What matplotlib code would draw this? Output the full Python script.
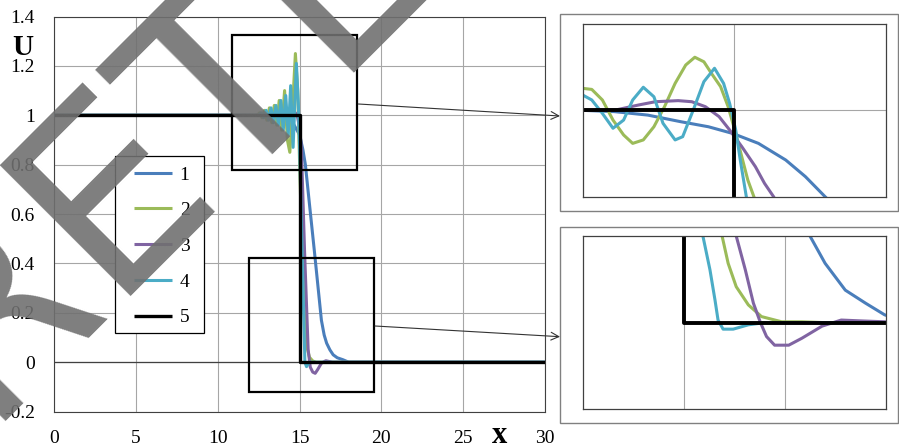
import matplotlib.pyplot as plt
from matplotlib.patches import Rectangle, FancyArrowPatch

plt.rcParams['font.family'] = ['Liberation Serif', 'DejaVu Serif']

W, H = 899, 448

# main chart series (x, U)
x1 = [0, 14.0, 14.5, 15.0, 15.2, 15.35, 15.6, 15.9, 16.1, 16.33, 16.5, 16.65, 16.85, 17.05, 17.3, 17.65, 18.0, 30]
y1 = [1, 1, 0.98, 0.92, 0.86, 0.8, 0.64, 0.45, 0.32, 0.17, 0.11, 0.077, 0.05, 0.03, 0.018, 0.01, 0.0, 0.0]
x2 = [0, 12.4, 12.55, 12.7, 12.85, 13.0, 13.15, 13.3, 13.45, 13.6, 13.75, 13.9, 14.08, 14.25, 14.4,
      14.58, 14.74, 14.88, 15.0, 15.15, 15.3, 15.45, 15.6, 15.8, 16.0, 30]
y2 = [1, 1, 1.01, 0.99, 1.02, 0.98, 1.03, 0.97, 1.04, 0.96, 1.06, 0.94, 1.1, 0.9, 0.85,
      1.05, 1.25, 1.1, 0.8, 0.45, 0.18, 0.06, 0.02, 0.005, 0, 0]
x3 = [0, 14.0, 14.5, 14.85, 15.0, 15.11, 15.3, 15.52, 15.65, 15.8, 15.95, 16.1, 16.33, 16.6, 17.0, 30]
y3 = [1, 1, 1.03, 1.0, 0.95, 0.86, 0.45, 0.05, -0.02, -0.04, -0.045, -0.03, -0.004, 0.006, 0.0, 0.0]
x4 = [0, 12.5, 12.65, 12.8, 12.95, 13.1, 13.25, 13.4, 13.55, 13.7, 13.85, 14.0, 14.15, 14.3, 14.45,
      14.6, 14.8, 14.92, 15.0, 15.15, 15.32, 15.42, 15.6, 30]
y4 = [1, 1, 1.01, 0.99, 1.02, 0.98, 1.03, 0.97, 1.04, 0.96, 1.06, 0.94, 1.08, 0.92, 1.12,
      0.87, 1.21, 1.05, 0.86, 0.45, 0.0, -0.018, 0, 0]
x5 = [0, 15, 15, 30]
y5 = [1, 1, 0, 0]

# upper inset (x 14..16, U 0.6..1.4)
b1x = [14.0, 14.21, 14.43, 14.65, 14.83, 14.99, 15.16, 15.34, 15.47, 15.6, 15.7]
b1y = [1.0, 0.994, 0.978, 0.947, 0.924, 0.893, 0.847, 0.77, 0.693, 0.6, 0.53]
g1x = [14.0, 14.06, 14.13, 14.2, 14.27, 14.33, 14.4, 14.47, 14.54, 14.61, 14.68, 14.74, 14.8, 14.85,
       14.91, 14.96, 15.01, 15.05, 15.09, 15.13, 15.2]
g1y = [1.102, 1.097, 1.048, 0.955, 0.886, 0.847, 0.863, 0.924, 1.017, 1.125, 1.21, 1.246, 1.225, 1.171,
       1.11, 1.017, 0.893, 0.785, 0.677, 0.6, 0.45]
p1x = [14.0, 14.22, 14.37, 14.48, 14.63, 14.72, 14.81, 14.9, 14.97, 15.05, 15.14, 15.2, 15.26, 15.32]
p1y = [1.0, 1.002, 1.025, 1.04, 1.045, 1.04, 1.017, 0.971, 0.909, 0.832, 0.739, 0.662, 0.6, 0.52]
c1x = [14.0, 14.06, 14.13, 14.2, 14.27, 14.33, 14.4, 14.47, 14.53, 14.61, 14.66, 14.73, 14.8, 14.87,
       14.93, 14.97, 15.01, 15.04, 15.08, 15.12]
c1y = [1.071, 1.048, 0.986, 0.917, 0.955, 1.048, 1.107, 1.063, 0.94, 0.863, 0.878, 1.002, 1.133, 1.195,
       1.125, 1.032, 0.909, 0.77, 0.6, 0.45]

# lower inset (x 14..17, U -0.2..0.2)
b2x = [16.1, 16.25, 16.4, 16.6, 16.8, 16.99, 17.1]
b2y = [0.28, 0.2, 0.137, 0.075, 0.045, 0.018, 0.01]
g2x = [15.3, 15.38, 15.44, 15.52, 15.64, 15.77, 15.97, 16.17, 16.4, 17.0]
g2y = [0.28, 0.2, 0.137, 0.083, 0.041, 0.014, 0.002, 0.002, 0.0, 0.0]
p2x = [15.45, 15.52, 15.61, 15.69, 15.76, 15.82, 15.9, 16.04, 16.17, 16.37, 16.56, 16.76, 16.99]
p2y = [0.28, 0.2, 0.122, 0.045, 0.0, -0.032, -0.052, -0.052, -0.036, -0.008, 0.006, 0.004, 0.002]
c2x = [15.1, 15.19, 15.26, 15.31, 15.34, 15.39, 15.49, 15.64, 15.8, 17.0]
c2y = [0.28, 0.2, 0.122, 0.052, 0.006, -0.015, -0.015, -0.005, 0.0, 0.0]

labels = ['1', '2', '3', '4', '5']
colors = ['#4a7ebb', '#9bbb59', '#8064a2', '#4bacc6', 'black']
xticks = [0, 5, 10, 15, 20, 25, 30]
yticks = [-0.2, 0, 0.2, 0.4, 0.6, 0.8, 1, 1.2, 1.4]
ytick_labels = ['-0.2', '0', '0.2', '0.4', '0.6', '0.8', '1', '1.2', '1.4']

# zoom boxes drawn on the main chart (data coords: x0, y0, width, height)
box_top = [10.87, 0.78, 7.66, 0.544]
box_bottom = [11.91, -0.119, 7.64, 0.541]


def fig_box(l, t, r, b):
    return [l / W, 1 - b / H, (r - l) / W, (b - t) / H]


fig = plt.figure(figsize=(W / 100, H / 100), dpi=100)

ax = fig.add_axes(fig_box(54.3, 16.5, 545, 411.6))
series = [(x1, y1), (x2, y2), (x3, y3), (x4, y4), (x5, y5)]
for (xs, ys), lab, col in zip(series, labels, colors):
    ax.plot(xs, ys, color=col, lw=2.4 if col == 'black' else 2.2, label=lab,
            zorder=3.5 if col == 'black' else 3, solid_capstyle='butt')
ax.set_xlim(0, 30)
ax.set_ylim(-0.2, 1.4)
ax.set_xticks(xticks)
ax.set_yticks(yticks)
ax.set_yticklabels(ytick_labels)
ax.grid(color='#a6a6a6', lw=0.8)
ax.set_axisbelow(True)
ax.axhline(0, color='#404040', lw=0.9, zorder=1)
ax.tick_params(length=0, labelsize=14)
ax.tick_params(axis='x', pad=13)
ax.tick_params(axis='y', pad=14)
for s in ax.spines.values():
    s.set_color('#404040')
    s.set_linewidth(0.8)

for bx in [box_top, box_bottom]:
    ax.add_patch(Rectangle((bx[0], bx[1]), bx[2], bx[3], fill=False, ec='black', lw=1.6, zorder=4))

# legend: white framed box plus frameless entries
ax.add_patch(Rectangle((0.1237, 0.1996), 0.1813, 0.647 - 0.1996, transform=ax.transAxes,
                       fc='white', ec='black', lw=0.9, zorder=5))
leg = ax.legend(loc='upper left', bbox_to_anchor=((134 - 54.3) / 490.7, (411.6 - 166) / 395.1),
                borderaxespad=0, borderpad=0, fontsize=14, frameon=False,
                handlelength=1.95, handletextpad=0.4, labelspacing=0.93)
leg.set_zorder(6)

fig.text(23 / W, 1 - 55 / H, 'U', fontsize=21, fontweight='bold', ha='center', va='baseline')
fig.text(500 / W, 1 - 435 / H, 'x', fontsize=22, fontweight='bold', ha='center', va='center')

# inset frames
for t, b in [(14, 210.7), (226.7, 423.3)]:
    fig.add_artist(Rectangle((560 / W, 1 - b / H), (898 - 560) / W, (b - t) / H,
                             transform=fig.transFigure, fill=False, ec='#808080', lw=1))

ins1 = fig.add_axes(fig_box(582.7, 24, 885.7, 196.7))
for xs, ys, col in zip([b1x, g1x, p1x, c1x], [b1y, g1y, p1y, c1y], colors):
    ins1.plot(xs, ys, color=col, lw=2.2)
ins1.plot(x5, y5, color='black', lw=2.8)
ins1.set_xlim(14, 16)
ins1.set_ylim(0.6, 1.4)
ins1.set_xticks([15])
ins1.set_yticks([1])

ins2 = fig.add_axes(fig_box(582.7, 236, 885.7, 409.3))
for xs, ys, col in zip([b2x, g2x, p2x, c2x], [b2y, g2y, p2y, c2y], colors):
    ins2.plot(xs, ys, color=col, lw=2.2)
ins2.plot(x5, y5, color='black', lw=2.8)
ins2.set_xlim(14, 17)
ins2.set_ylim(-0.2, 0.2)
ins2.set_xticks([15, 16])
ins2.set_yticks([])

for a in [ins1, ins2]:
    a.grid(color='#a6a6a6', lw=0.8)
    a.set_axisbelow(True)
    a.tick_params(length=0, labelbottom=False, labelleft=False)
    for s in a.spines.values():
        s.set_color('#404040')
        s.set_linewidth(0.9)

# arrows from zoom boxes to insets
for (x0, y0), (x1a, y1a) in [((358.3, 104), (560, 116)), ((375, 326), (560, 336.7))]:
    fig.add_artist(FancyArrowPatch((x0 / W, 1 - y0 / H), (x1a / W, 1 - y1a / H),
                                   transform=fig.transFigure, arrowstyle='->', mutation_scale=14,
                                   lw=0.8, color='#333333', shrinkA=0, shrinkB=0))

# grey watermark text laid over the chart
fig.text(-127 / W, 1 - 529 / H, 'PRETEXT', fontsize=183, family='DejaVu Sans', color='#707070',
         alpha=0.9, rotation=45, rotation_mode='anchor', ha='left', va='baseline', zorder=10)

fig.savefig('out.png', dpi=100)
